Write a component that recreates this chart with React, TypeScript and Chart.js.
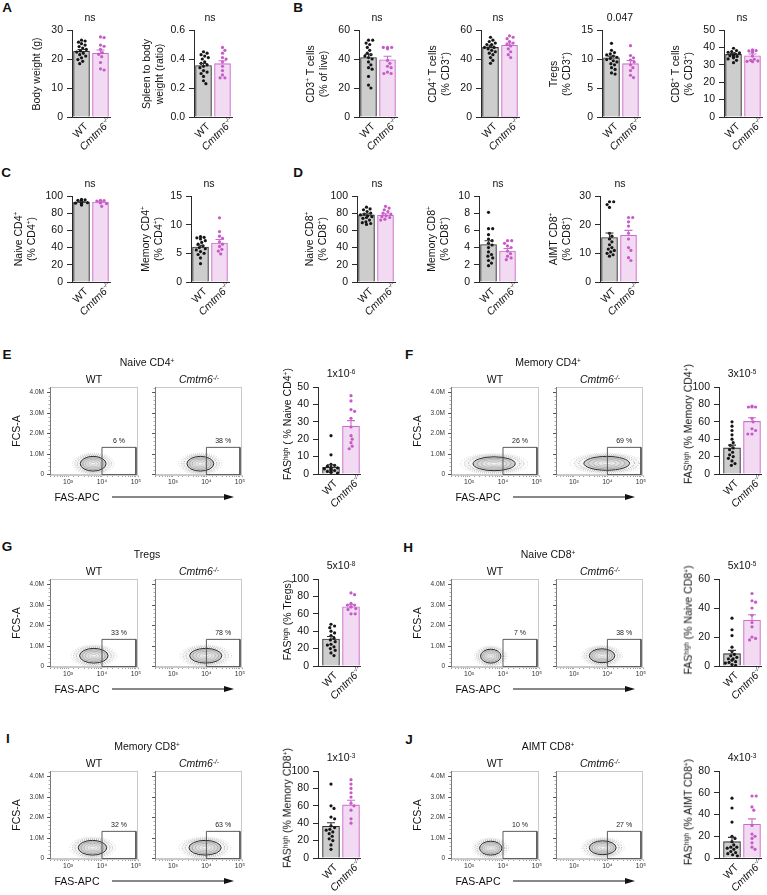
import React, { useEffect, useRef } from "react";
import { Chart, registerables } from "chart.js";

Chart.register(...registerables);

const FONT = "'Liberation Sans', Arial, Helvetica, sans-serif";
Chart.defaults.font.family = FONT;

// ---------------- groups ----------------
const groupNames = ["WT", "Cmtm6"];
const groupSups = ["", "-/-"];

// ---------------- panel A ----------------
const bodyWeightWT = [26.5, 26.2, 25.8, 25.3, 24.8, 24.3, 23.8, 23.3, 22.8, 22.4, 22.0, 21.5, 21.0, 20.4, 19.8, 19.2, 18.4];
const bodyWeightKO = [27.6, 27.4, 24.8, 24.4, 23.3, 22.2, 21.6, 20.8, 18.8, 16.6, 16.2];
const bodyWeightMean = [22.7, 22.0];
const bodyWeightSem = [0.6, 1.1];

const spleenWT = [0.45, 0.44, 0.43, 0.42, 0.41, 0.4, 0.38, 0.37, 0.36, 0.35, 0.34, 0.32, 0.31, 0.3, 0.28, 0.25, 0.23];
const spleenKO = [0.48, 0.46, 0.44, 0.41, 0.4, 0.38, 0.35, 0.32, 0.29, 0.27, 0.27];
const spleenMean = [0.355, 0.368];
const spleenSem = [0.014, 0.02];

// ---------------- panel B ----------------
const cd3WT = [53, 53, 51, 50, 48, 46, 44, 43, 42, 41, 40, 38, 36, 34, 33, 28, 22, 20];
const cd3KO = [48, 48, 48, 47, 39, 37, 35, 34, 31, 30, 30];
const cd3Mean = [41, 39.5];
const cd3Sem = [2.2, 2.4];

const cd4WT = [55, 53, 52, 51, 50, 50, 49, 48, 48, 47, 46, 45, 44, 43, 41, 39, 37];
const cd4KO = [56, 55, 54, 52, 51, 50, 49, 47, 45, 43, 41];
const cd4Mean = [48, 49.5];
const cd4Sem = [1.0, 1.5];

const tregWT = [12.7, 11.5, 11.1, 10.9, 10.7, 10.5, 10.3, 10.1, 9.9, 9.7, 9.5, 9.2, 9.0, 8.5, 8.2, 7.6, 7.4];
const tregKO = [12.3, 10.6, 10.2, 9.8, 9.5, 9.0, 8.5, 8.0, 7.2, 6.8];
const tregMean = [10.2, 9.2];
const tregSem = [0.3, 0.55];

const cd8WT = [39.5, 38.2, 37.6, 37.2, 36.8, 36.4, 36.1, 35.8, 35.5, 35.2, 34.8, 34.4, 34, 33.4, 32.6, 31.2];
const cd8KO = [38.6, 38.2, 38, 37.6, 37.2, 35, 33.2, 32.6, 32.2, 32, 31.8];
const cd8Mean = [36.0, 35.2];
const cd8Sem = [0.5, 1.0];

// ---------------- panel C ----------------
const naiveCD4WT = [96, 95.5, 95, 94.5, 94.2, 94, 93.6, 93.2, 93, 92.6, 92.2, 92, 91.6, 91, 90.2, 89.5];
const naiveCD4KO = [95, 94.6, 94.2, 94, 93.6, 93.2, 92.6, 92, 91.2, 88];
const naiveCD4Mean = [93, 93];
const naiveCD4Sem = [0.4, 0.6];

const memCD4WT = [7.9, 7.8, 7.7, 7.5, 7.2, 6.9, 6.6, 6.3, 6.0, 5.8, 5.6, 5.3, 5.0, 4.8, 4.2, 3.2];
const memCD4KO = [11.2, 8.8, 8.0, 7.6, 7.0, 6.6, 6.2, 5.7, 5.4, 4.9];
const memCD4Mean = [6.1, 6.8];
const memCD4Sem = [0.3, 0.6];

// ---------------- panel D ----------------
const naiveCD8WT = [87, 85, 84, 82, 80, 79, 78, 77, 76, 75, 74, 72, 70, 69, 68, 67];
const naiveCD8KO = [88, 86, 84, 82, 80, 79, 77, 76, 75, 73, 72];
const naiveCD8Mean = [78, 77.5];
const naiveCD8Sem = [1.4, 1.8];

const memCD8WT = [8.1, 6.2, 6.2, 5.5, 5.0, 4.8, 4.5, 4.3, 4.0, 3.5, 3.2, 3.0, 2.8, 2.5, 2.2, 1.9];
const memCD8KO = [4.8, 4.8, 4.5, 4.2, 4.0, 3.6, 3.3, 3.0, 2.8, 2.6];
const memCD8Mean = [4.35, 3.6];
const memCD8Sem = [0.45, 0.3];

const aimtWT = [28, 28, 27, 26, 17, 16, 15, 14, 13, 12, 11.5, 11, 10.5, 10, 9.5, 9];
const aimtKO = [22.5, 22.5, 21, 19.5, 17, 15, 12, 11, 8.5, 7.5];
const aimtMean = [15.5, 16.3];
const aimtSem = [1.6, 1.7];

// ---------------- panels E-J: FAS-high % ----------------
const fasNaiveCD4WT = [22, 11, 5.5, 5, 4.5, 4, 3.5, 3, 3, 2.5, 2, 2, 1.5, 1, 1, 0.5];
const fasNaiveCD4KO = [45, 42, 37, 36, 32, 27, 22, 20, 18, 16, 14.5];
const fasNaiveCD4Mean = [3.9, 27.5];
const fasNaiveCD4Sem = [1.4, 3.2];

const fasMemCD4WT = [60, 55, 50, 45, 40, 36, 33, 30, 28, 25, 22, 20, 18, 15, 12, 10];
const fasMemCD4KO = [78, 77, 77, 77, 64, 60, 52, 50, 46, 46];
const fasMemCD4Mean = [30, 60.5];
const fasMemCD4Sem = [3.2, 4.2];

const fasTregWT = [48, 46, 44, 40, 38, 35, 32, 30, 28, 25, 24, 22, 20, 18, 15, 12];
const fasTregKO = [84, 82, 72, 70, 70, 68, 68, 66, 65, 60, 60];
const fasTregMean = [31, 68];
const fasTregSem = [2.9, 2.5];

const fasNaiveCD8WT = [33, 25, 21, 13, 10, 8, 7, 6, 5, 5, 4, 3, 2.5, 2, 1, 0.5];
const fasNaiveCD8KO = [50, 45, 44, 40, 35, 30, 27, 20, 19, 18];
const fasNaiveCD8Mean = [8.5, 31.5];
const fasNaiveCD8Sem = [2.3, 3.8];

const fasMemCD8WT = [85, 60, 57, 47, 45, 37, 35, 33, 32, 30, 28, 25, 22, 20, 15, 10];
const fasMemCD8KO = [90, 85, 80, 75, 70, 63, 60, 55, 45, 40];
const fasMemCD8Mean = [36.5, 61];
const fasMemCD8Sem = [4.0, 5.3];

const fasAimtWT = [55, 46, 33, 20, 18, 15, 12, 10, 10, 9, 8, 6, 5, 4, 3, 2];
const fasAimtKO = [57, 57, 47, 44, 30, 22, 20, 18, 14, 10, 8];
const fasAimtMean = [15, 31];
const fasAimtSem = [4.0, 5.0];

// ---------------- flow plots ----------------
const flowTitles = ["Naive CD4", "Memory CD4", "Tregs", "Naive CD8", "Memory CD8", "AIMT CD8"];
const flowTitleSups = ["+", "+", "", "+", "+", "+"];
const gatePctWT = [6, 26, 33, 7, 32, 10];
const gatePctKO = [38, 69, 78, 38, 63, 27];
const gateFas = [1e4, 1e5];
const gateFsc = [-0.03e6, 1.3e6];
const cloudLogFasWT = [3.74, 3.74, 3.76, 3.64, 3.72, 3.64];
const cloudLogSpreadWT = [0.38, 0.62, 0.42, 0.3, 0.42, 0.33];
const cloudLogFasKO = [3.82, 3.98, 3.98, 3.84, 3.96, 3.86];
const cloudLogSpreadKO = [0.4, 0.68, 0.48, 0.38, 0.48, 0.4];
const cloudFscWT = [0.5e6, 0.5e6, 0.5e6, 0.48e6, 0.5e6, 0.48e6];
const cloudFscKO = [0.5e6, 0.52e6, 0.5e6, 0.5e6, 0.5e6, 0.5e6];
const cloudFscSpread = [0.36e6, 0.34e6, 0.36e6, 0.34e6, 0.36e6, 0.34e6];
const fasTickLabels: Record<number, string> = { 3: "10³", 4: "10⁴", 5: "10⁵" };
const fscMajorTicks = [0, 1e6, 2e6, 3e6, 4e6];
const fscMajorLabels = ["0", "1.0M", "2.0M", "3.0M", "4.0M"];
const fscMinorStep = 0.2e6;

const pValueBase = ["1x10", "3x10", "5x10", "5x10", "1x10", "4x10"];
const pValueExp = ["-6", "-5", "-8", "-5", "-3", "-3"];
const fasTitleTail = [" ( % Naive CD4", " (% Memory CD4", " (% Tregs", " (% Naive CD8", " (% Memory CD8", " (% AIMT CD8"];

const fasWT = [fasNaiveCD4WT, fasMemCD4WT, fasTregWT, fasNaiveCD8WT, fasMemCD8WT, fasAimtWT];
const fasKO = [fasNaiveCD4KO, fasMemCD4KO, fasTregKO, fasNaiveCD8KO, fasMemCD8KO, fasAimtKO];
const fasMean = [fasNaiveCD4Mean, fasMemCD4Mean, fasTregMean, fasNaiveCD8Mean, fasMemCD8Mean, fasAimtMean];
const fasSem = [fasNaiveCD4Sem, fasMemCD4Sem, fasTregSem, fasNaiveCD8Sem, fasMemCD8Sem, fasAimtSem];
const fasYMax = [50, 100, 100, 60, 100, 80];
const fasYStep = [10, 20, 20, 20, 20, 20];

// ---------------- styles ----------------
const WT_FILL = "#cdcdcd", WT_LINE = "#333333", WT_DOT = "#161616";
const KO_FILL = "#f2dbf2", KO_LINE = "#cc6ccc", KO_DOT = "#c65ac6";
const AX = "#2a2a2a";

type BarSpec = {
  axisX: number; top: number; bottom: number; ymax: number; step: number; dec: number;
  wt: number[]; ko: number[]; mean: number[]; sem: number[]; wide: boolean;
};

const barSpecs: BarSpec[] = [
  { axisX: 72, top: 30, bottom: 117, ymax: 30, step: 10, dec: 0, wt: bodyWeightWT, ko: bodyWeightKO, mean: bodyWeightMean, sem: bodyWeightSem, wide: false },
  { axisX: 194, top: 30, bottom: 117, ymax: 0.6, step: 0.2, dec: 1, wt: spleenWT, ko: spleenKO, mean: spleenMean, sem: spleenSem, wide: false },
  { axisX: 359, top: 30, bottom: 117, ymax: 60, step: 20, dec: 0, wt: cd3WT, ko: cd3KO, mean: cd3Mean, sem: cd3Sem, wide: false },
  { axisX: 481, top: 30, bottom: 117, ymax: 60, step: 20, dec: 0, wt: cd4WT, ko: cd4KO, mean: cd4Mean, sem: cd4Sem, wide: false },
  { axisX: 602, top: 30, bottom: 117, ymax: 15, step: 5, dec: 0, wt: tregWT, ko: tregKO, mean: tregMean, sem: tregSem, wide: false },
  { axisX: 724, top: 30, bottom: 117, ymax: 50, step: 10, dec: 0, wt: cd8WT, ko: cd8KO, mean: cd8Mean, sem: cd8Sem, wide: false },
  { axisX: 72, top: 196, bottom: 282, ymax: 100, step: 20, dec: 0, wt: naiveCD4WT, ko: naiveCD4KO, mean: naiveCD4Mean, sem: naiveCD4Sem, wide: false },
  { axisX: 191, top: 196, bottom: 282, ymax: 15, step: 5, dec: 0, wt: memCD4WT, ko: memCD4KO, mean: memCD4Mean, sem: memCD4Sem, wide: false },
  { axisX: 357, top: 196, bottom: 282, ymax: 100, step: 20, dec: 0, wt: naiveCD8WT, ko: naiveCD8KO, mean: naiveCD8Mean, sem: naiveCD8Sem, wide: false },
  { axisX: 479, top: 196, bottom: 282, ymax: 10, step: 2, dec: 0, wt: memCD8WT, ko: memCD8KO, mean: memCD8Mean, sem: memCD8Sem, wide: false },
  { axisX: 600, top: 196, bottom: 282, ymax: 30, step: 10, dec: 0, wt: aimtWT, ko: aimtKO, mean: aimtMean, sem: aimtSem, wide: false },
];

const ROW_TOPS = [387, 579, 771];
for (let i = 0; i < 6; i++) {
  const r = Math.floor(i / 2), c = i % 2;
  barSpecs.push({
    axisX: 318 + c * 401, top: ROW_TOPS[r], bottom: ROW_TOPS[r] + 87,
    ymax: fasYMax[i], step: fasYStep[i], dec: 0,
    wt: fasWT[i], ko: fasKO[i], mean: fasMean[i], sem: fasSem[i], wide: true,
  });
}

// deterministic beeswarm layout (pixel based) -> offset in x units
function swarm(vals: number[], ymax: number, plotH: number, unitPx: number, halfW: number): number[] {
  const r = 1.7, gap = 2 * r + 0.2;
  const placed: { x: number; y: number }[] = [];
  const res = new Array(vals.length).fill(0);
  const order = vals.map((_, i) => i).sort((a, b) => vals[b] - vals[a]);
  for (const i of order) {
    const py = (vals[i] / ymax) * plotH;
    let best = 0, found = false;
    for (let k = 0; k <= 40 && !found; k++) {
      const cands = k === 0 ? [0] : [k * 0.6, -k * 0.6];
      for (const c of cands) {
        if (Math.abs(c) > halfW) continue;
        if (placed.every((p) => Math.hypot(p.x - c, p.y - py) >= gap)) { best = c; found = true; break; }
      }
    }
    placed.push({ x: best, y: py });
    res[i] = best / unitPx;
  }
  return res;
}

function BarChart({ s }: { s: BarSpec }) {
  const ref = useRef<HTMLCanvasElement>(null);
  const padL = 15, Wy = 30, padT = 12, padR = 12, padB = 50;
  const xmin = s.wide ? -0.65 : -0.5, xmax = s.wide ? 1.45 : 1.5;
  const plotW = s.wide ? 42 : 38;
  const thick = s.wide ? 17 : 16;
  const plotH = s.bottom - s.top;
  const cw = padL + Wy + plotW + padR, ch = padT + plotH + padB;
  useEffect(() => {
    const unitPx = plotW / (xmax - xmin);
    const hw = thick / 2 - 1.8;
    const wOff = swarm(s.wt, s.ymax, plotH, unitPx, hw);
    const kOff = swarm(s.ko, s.ymax, plotH, unitPx, hw);
    const extras = {
      id: "barExtras",
      afterDatasetsDraw(chart: any) {
        const { ctx, scales } = chart;
        const x = scales.x, y = scales.y;
        for (let i = 0; i < 2; i++) {
          const px = x.getPixelForValue(i);
          const y0 = y.getPixelForValue(s.mean[i]);
          const y1 = y.getPixelForValue(s.mean[i] + s.sem[i]);
          ctx.save();
          ctx.strokeStyle = i ? KO_LINE : WT_LINE;
          ctx.lineWidth = 1.1;
          ctx.beginPath();
          ctx.moveTo(px, y0); ctx.lineTo(px, y1);
          ctx.moveTo(px - 4, y1); ctx.lineTo(px + 4, y1);
          ctx.stroke();
          ctx.restore();
        }
      },
      afterDraw(chart: any) {
        const { ctx, scales, chartArea } = chart;
        const x = scales.x;
        for (let i = 0; i < 2; i++) {
          const px = x.getPixelForValue(i);
          ctx.save();
          ctx.translate(px + 5, chartArea.bottom + 8);
          ctx.rotate(-Math.PI / 4);
          ctx.fillStyle = "#111";
          ctx.textAlign = "right";
          ctx.textBaseline = "middle";
          ctx.font = `${i ? "italic " : ""}10.5px ${FONT}`;
          ctx.fillText(groupNames[i], 0, 0);
          if (groupSups[i]) {
            ctx.font = `italic 6.5px ${FONT}`;
            ctx.textAlign = "left";
            ctx.fillText(groupSups[i], 0.5, -3.5);
          }
          ctx.restore();
        }
      },
    };
    const chart = new Chart(ref.current as HTMLCanvasElement, {
      type: "bar",
      data: {
        datasets: [
          { type: "scatter", data: s.wt.map((v, i) => ({ x: wOff[i], y: v })), backgroundColor: WT_DOT, borderWidth: 0, pointRadius: 1.6, order: 1 } as any,
          { type: "scatter", data: s.ko.map((v, i) => ({ x: 1 + kOff[i], y: v })), backgroundColor: KO_DOT, borderWidth: 0, pointRadius: 1.6, order: 1 } as any,
          { type: "bar", data: [{ x: 0, y: s.mean[0] }, { x: 1, y: s.mean[1] }], backgroundColor: [WT_FILL, KO_FILL], borderColor: [WT_LINE, KO_LINE], borderWidth: 1.1, barThickness: thick, order: 3 } as any,
        ],
      },
      options: {
        animation: false,
        responsive: false,
        maintainAspectRatio: false,
        layout: { padding: { left: padL, top: padT, right: padR, bottom: padB } },
        plugins: { legend: { display: false }, tooltip: { enabled: false } },
        scales: {
          x: {
            type: "linear", min: xmin, max: xmax, offset: false,
            ticks: { display: false },
            grid: { display: true, drawOnChartArea: false, drawTicks: false },
            border: { display: true, color: AX, width: 1 },
            afterFit: (a: any) => { a.height = 0; },
          },
          y: {
            type: "linear", min: 0, max: s.ymax,
            ticks: {
              stepSize: s.step, color: "#111", padding: 4, font: { size: 10.5 },
              callback: (v: any) => (s.dec ? Number(v).toFixed(s.dec) : String(Math.round(Number(v)))),
            },
            grid: { drawOnChartArea: false, drawTicks: true, tickLength: 5, color: AX },
            border: { color: AX, width: 1 },
            afterFit: (a: any) => { a.width = Wy; },
          },
        },
      } as any,
      plugins: [extras as any],
    });
    return () => chart.destroy();
  }, []);
  return (
    <canvas
      ref={ref}
      width={cw}
      height={ch}
      style={{ position: "absolute", left: s.axisX - padL - Wy, top: s.top - padT, width: cw, height: ch }}
    />
  );
}

type FlowSpec = { fl: number; ft: number; w: number; h: number; showY: boolean; idx: number; ko: boolean };

const flowSpecs: FlowSpec[] = [];
for (let i = 0; i < 6; i++) {
  const r = Math.floor(i / 2), c = i % 2;
  flowSpecs.push({ fl: 50 + c * 401, ft: ROW_TOPS[r], w: 88, h: 88, showY: true, idx: i, ko: false });
  flowSpecs.push({ fl: 155 + c * 401, ft: ROW_TOPS[r], w: 87, h: 88, showY: false, idx: i, ko: true });
}

function FlowChart({ f }: { f: FlowSpec }) {
  const ref = useRef<HTMLCanvasElement>(null);
  const padL = 10, Wy = 30, padT = 10, padR = 12, Hx = 14, padB = 8;
  const cw = padL + Wy + f.w + padR, ch = padT + f.h + Hx + padB;
  useEffect(() => {
    const i = f.idx;
    const cLog = f.ko ? cloudLogFasKO[i] : cloudLogFasWT[i];
    const cSpr = f.ko ? cloudLogSpreadKO[i] : cloudLogSpreadWT[i];
    const cFsc = f.ko ? cloudFscKO[i] : cloudFscWT[i];
    const cFscS = cloudFscSpread[i];
    const pct = f.ko ? gatePctKO[i] : gatePctWT[i];
    const extras = {
      id: "flowExtras",
      beforeDatasetsDraw(chart: any) {
        const { ctx, chartArea: a, scales } = chart;
        const x = scales.x, y = scales.y;
        const cx = x.getPixelForValue(Math.pow(10, cLog));
        const rx = (x.getPixelForValue(Math.pow(10, cLog + cSpr)) - x.getPixelForValue(Math.pow(10, cLog - cSpr))) / 2;
        const cy = y.getPixelForValue(cFsc);
        const ry = (y.getPixelForValue(cFsc - cFscS) - y.getPixelForValue(cFsc + cFscS)) / 2;
        ctx.save();
        ctx.beginPath();
        ctx.rect(a.left, a.top, a.right - a.left, a.bottom - a.top);
        ctx.clip();
        // sparse events around the population
        ctx.fillStyle = "rgba(0,0,0,0.04)";
        ctx.beginPath();
        ctx.ellipse(cx, cy, rx * 1.45, ry * 1.35, 0, 0, Math.PI * 2);
        ctx.fill();
        ctx.setLineDash([0.6, 1.4]);
        ctx.lineWidth = 0.8;
        [[1.6, 1.45, "rgba(110,110,110,0.45)"], [1.42, 1.3, "rgba(80,80,80,0.6)"], [1.22, 1.15, "rgba(60,60,60,0.75)"]].forEach(([kx, ky, col]: any) => {
          ctx.strokeStyle = col;
          ctx.beginPath();
          ctx.ellipse(cx, cy, rx * kx, ry * ky, 0, 0, Math.PI * 2);
          ctx.stroke();
        });
        ctx.setLineDash([]);
        // main contour
        ctx.fillStyle = "#cfcfcf";
        ctx.beginPath();
        ctx.ellipse(cx, cy, rx, ry, 0, 0, Math.PI * 2);
        ctx.fill();
        ctx.strokeStyle = "#2b2b2b";
        ctx.lineWidth = 1.0;
        ctx.stroke();
        [[0.8, "#d9d9d9", "#8e8e8e"], [0.6, "#e2e2e2", "#9c9c9c"], [0.4, "#ebebeb", "#a8a8a8"], [0.2, "#f3f3f3", "#b4b4b4"]].forEach(([k, fill, col]: any) => {
          ctx.beginPath();
          ctx.ellipse(cx, cy, rx * k, ry * k, 0, 0, Math.PI * 2);
          ctx.fillStyle = fill;
          ctx.fill();
          ctx.strokeStyle = col;
          ctx.lineWidth = 0.6;
          ctx.stroke();
        });
        ctx.restore();
        // frame
        ctx.save();
        ctx.strokeStyle = "#c9c9c9";
        ctx.lineWidth = 1;
        ctx.strokeRect(a.left + 0.5, a.top + 0.5, a.right - a.left - 1, a.bottom - a.top - 1);
        ctx.restore();
      },
      afterDraw(chart: any) {
        const { ctx, scales, chartArea: a } = chart;
        const x = scales.x, y = scales.y;
        // gate percentage
        const gx = (x.getPixelForValue(gateFas[0]) + x.getPixelForValue(gateFas[1])) / 2;
        const gy = y.getPixelForValue(gateFsc[1]);
        ctx.save();
        ctx.fillStyle = "#222";
        ctx.font = `7px ${FONT}`;
        ctx.textAlign = "center";
        ctx.textBaseline = "alphabetic";
        ctx.fillText(`${pct} %`, gx, gy - 4);
        // FSC axis: minor + major ticks and labels
        ctx.strokeStyle = "#666";
        ctx.lineWidth = 0.8;
        ctx.beginPath();
        ctx.moveTo(a.left + 0.5, a.top);
        ctx.lineTo(a.left + 0.5, a.bottom);
        ctx.stroke();
        ctx.strokeStyle = "#8a8a8a";
        ctx.lineWidth = 0.7;
        for (let v = 0; v <= 4.2e6; v += fscMinorStep) {
          const py = Math.round(y.getPixelForValue(v)) + 0.5;
          ctx.beginPath();
          ctx.moveTo(a.left - 1.5, py);
          ctx.lineTo(a.left, py);
          ctx.stroke();
        }
        ctx.strokeStyle = "#333";
        ctx.lineWidth = 0.8;
        ctx.font = `6.5px ${FONT}`;
        ctx.textAlign = "right";
        ctx.textBaseline = "middle";
        ctx.fillStyle = "#333";
        fscMajorTicks.forEach((v, k) => {
          const py = Math.round(y.getPixelForValue(v)) + 0.5;
          ctx.beginPath();
          ctx.moveTo(a.left - 3, py);
          ctx.lineTo(a.left, py);
          ctx.stroke();
          if (f.showY) ctx.fillText(fscMajorLabels[k], a.left - 6, py);
        });
        ctx.restore();
      },
    };
    const gatePts = [
      { x: gateFas[0], y: gateFsc[0] }, { x: gateFas[0], y: gateFsc[1] },
      { x: gateFas[1], y: gateFsc[1] }, { x: gateFas[1], y: gateFsc[0] },
      { x: gateFas[0], y: gateFsc[0] },
    ];
    const chart = new Chart(ref.current as HTMLCanvasElement, {
      type: "scatter",
      data: {
        datasets: [
          { data: gatePts, showLine: true, borderColor: "#4a4a4a", borderWidth: 0.9, pointRadius: 0, fill: false } as any,
        ],
      },
      options: {
        animation: false,
        responsive: false,
        maintainAspectRatio: false,
        layout: { padding: { left: padL, top: padT, right: padR, bottom: padB } },
        plugins: { legend: { display: false }, tooltip: { enabled: false } },
        scales: {
          x: {
            type: "logarithmic", min: Math.pow(10, 2.47), max: Math.pow(10, 5.06), offset: false,
            ticks: {
              autoSkip: false, maxRotation: 0, minRotation: 0, padding: 1.5, color: "#333", font: { size: 6.8 },
              callback: (v: any) => {
                const l = Math.log10(Number(v));
                return Math.abs(l - Math.round(l)) < 1e-6 ? fasTickLabels[Math.round(l)] || "" : "";
              },
            },
            grid: { drawOnChartArea: false, drawTicks: true, tickLength: 2, color: "#777", lineWidth: 0.7 },
            border: { color: "#c9c9c9", width: 1 },
            afterFit: (a: any) => { a.height = Hx; },
          },
          y: {
            type: "linear", min: -0.05e6, max: 4.25e6,
            ticks: { display: false },
            grid: { display: false, drawOnChartArea: false, drawTicks: false },
            border: { display: false },
            afterFit: (a: any) => { a.width = Wy; },
          },
        },
      } as any,
      plugins: [extras as any],
    });
    return () => chart.destroy();
  }, []);
  return (
    <canvas
      ref={ref}
      width={cw}
      height={ch}
      style={{ position: "absolute", left: f.fl - padL - Wy, top: f.ft - padT, width: cw, height: ch }}
    />
  );
}

function Sup({ children }: any) {
  return <sup style={{ fontSize: "0.62em", verticalAlign: "0.5em", lineHeight: 0 }}>{children}</sup>;
}

function T({ x, y, s = 10.5, rot = 0, bold = false, italic = false, lh = 12.5, children }: any) {
  return (
    <div
      style={{
        position: "absolute", left: x, top: y,
        transform: `translate(-50%, -50%) rotate(${rot}deg)`,
        fontSize: s, fontWeight: bold ? 700 : 400, fontStyle: italic ? "italic" : "normal",
        whiteSpace: "nowrap", lineHeight: `${lh}px`, textAlign: "center", color: "#111",
      }}
    >
      {children}
    </div>
  );
}

const KOLabel = () => (<span><i>Cmtm6</i><Sup><i>-/-</i></Sup></span>);

export default function App() {
  const letters: [string, number, number][] = [
    ["A", 7, 8], ["B", 298, 8], ["C", 6, 173], ["D", 298, 173],
    ["E", 7, 355], ["F", 409, 355], ["G", 7, 547], ["H", 408, 548], ["I", 8, 739], ["J", 409, 740],
  ];
  const sig: [string, number, number][] = [
    ["ns", 90, 17], ["ns", 210, 17], ["ns", 377, 17], ["ns", 498, 17], ["0.047", 620, 17], ["ns", 742, 17],
    ["ns", 90, 183], ["ns", 209, 183], ["ns", 377, 183], ["ns", 498, 183], ["ns", 620, 183],
  ];
  const flowRows = [0, 1, 2, 3, 4, 5].map((i) => ({ i, r: Math.floor(i / 2), c: i % 2 }));
  return (
    <div style={{ position: "absolute", left: 0, top: 0, width: 767, height: 895, background: "#fff", fontFamily: FONT, color: "#111", overflow: "hidden" }}>
      {barSpecs.map((s, i) => <BarChart key={"b" + i} s={s} />)}
      {flowSpecs.map((f, i) => <FlowChart key={"f" + i} f={f} />)}

      {letters.map(([t, x, y]) => <T key={t} x={x} y={y} s={13.5} bold>{t}</T>)}
      {sig.map(([t, x, y], i) => <T key={"s" + i} x={x} y={y}>{t}</T>)}

      {/* row 1 y-axis titles */}
      <T x={36} y={74} rot={-90}>Body weight (g)</T>
      <T x={152} y={74} rot={-90}>Spleen to body<br />weight (ratio)</T>
      <T x={315.5} y={74} rot={-90}>CD3<Sup>+</Sup> T cells<br />(% of live)</T>
      <T x={437.5} y={74} rot={-90}>CD4<Sup>+</Sup> T cells<br />(% CD3<Sup>+</Sup>)</T>
      <T x={558.5} y={74} rot={-90}>Tregs<br />(% CD3<Sup>+</Sup>)</T>
      <T x={680.5} y={74} rot={-90}>CD8<Sup>+</Sup> T cells<br />(% CD3<Sup>+</Sup>)</T>

      {/* row 2 y-axis titles */}
      <T x={23.5} y={239} rot={-90}>Naive CD4<Sup>+</Sup><br />(% CD4<Sup>+</Sup>)</T>
      <T x={150.5} y={239} rot={-90}>Memory CD4<Sup>+</Sup><br />(% CD4<Sup>+</Sup>)</T>
      <T x={315} y={239} rot={-90}>Naive CD8<Sup>+</Sup><br />(% CD8<Sup>+</Sup>)</T>
      <T x={436.5} y={239} rot={-90}>Memory CD8<Sup>+</Sup><br />(% CD8<Sup>+</Sup>)</T>
      <T x={559} y={239} rot={-90}>AIMT CD8<Sup>+</Sup><br />(% CD8<Sup>+</Sup>)</T>

      {flowRows.map(({ i, r, c }) => {
        const top = ROW_TOPS[r], off = c * 401;
        const longTitle = i < 2 || i === 4;
        return (
          <React.Fragment key={"fr" + i}>
            <T x={147 + off} y={top - 25}>{flowTitles[i]}{flowTitleSups[i] ? <Sup>{flowTitleSups[i]}</Sup> : null}</T>
            <T x={94 + off} y={top - 8}>WT</T>
            <T x={199 + off} y={top - 8}><KOLabel /></T>
            <T x={16 + off} y={top + 44} rot={-90}>FCS-A</T>
            <T x={77 + off} y={top + 110}>FAS-APC</T>
            <svg style={{ position: "absolute", left: 112 + off, top: top + 106 }} width={124} height={8}>
              <line x1={0} y1={4} x2={114} y2={4} stroke="#111" strokeWidth={1} />
              <polygon points="122,4 112,1 112,7" fill="#111" />
            </svg>
            <T x={341 + off} y={top - 14}>{pValueBase[i]}<Sup>{pValueExp[i]}</Sup></T>
            <T x={286.5 + off} y={top + 43 - (longTitle ? 6 : 2)} rot={-90}>
              FAS<Sup>high</Sup>{fasTitleTail[i]}{i === 2 ? "" : <Sup>+</Sup>})
            </T>
          </React.Fragment>
        );
      })}
    </div>
  );
}
